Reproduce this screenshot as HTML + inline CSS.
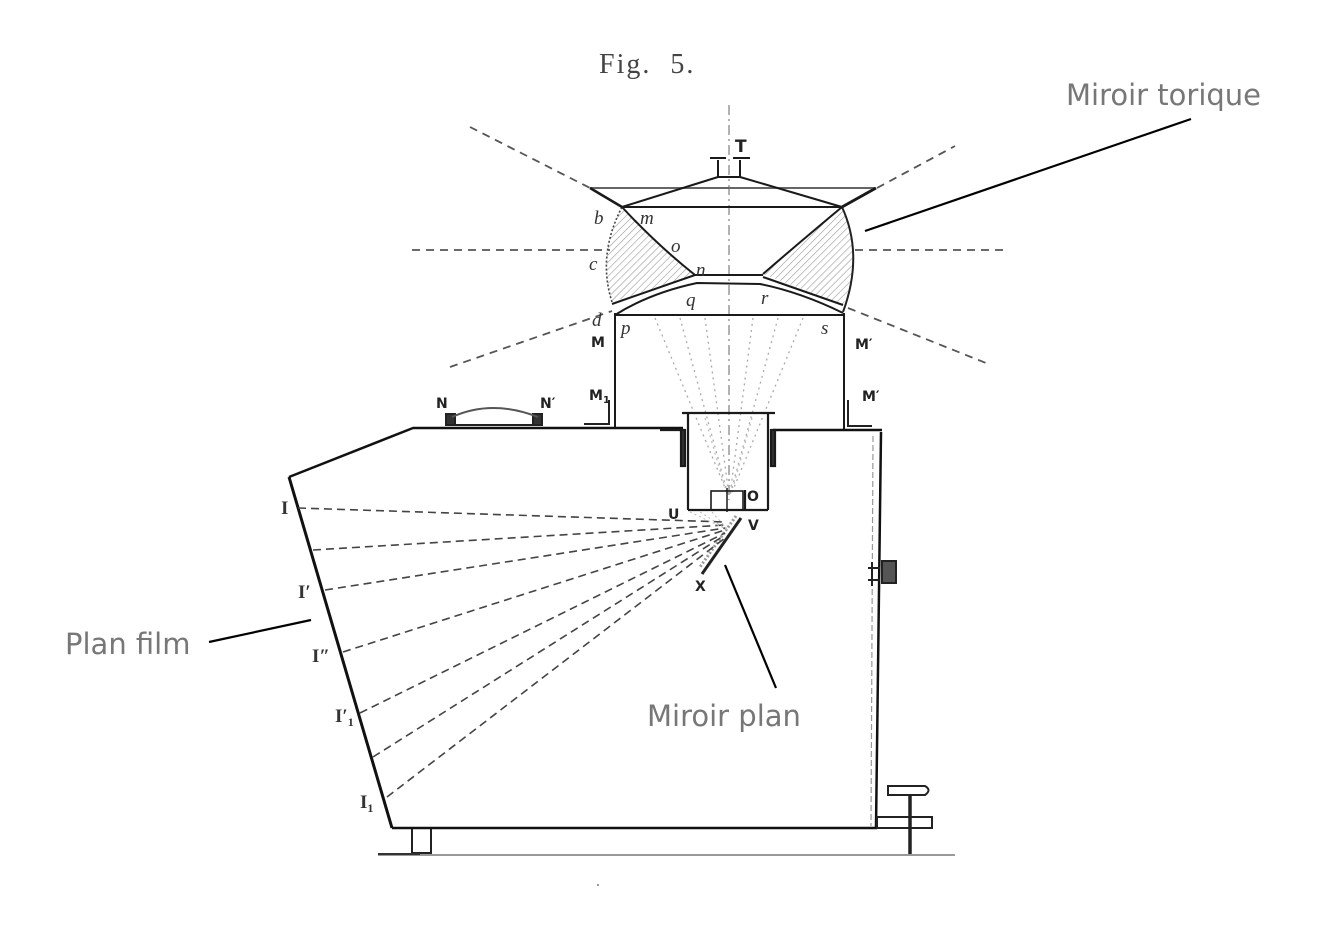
<!DOCTYPE html>
<html><head><meta charset="utf-8"><style>
html,body{margin:0;padding:0;background:#fff;}
svg{display:block;}
</style></head><body>
<svg width="1334" height="930" viewBox="0 0 1334 930" xmlns="http://www.w3.org/2000/svg">
<defs>
<pattern id="h" patternUnits="userSpaceOnUse" width="5" height="5" patternTransform="rotate(45)">
<line x1="0" y1="0" x2="0" y2="5" stroke="#9a9a9a" stroke-width="1.2"/>
</pattern>
</defs>
<rect width="1334" height="930" fill="#fff"/>

<!-- Fig title -->
<text x="599" y="73" font-family="Liberation Serif, serif" font-size="28" fill="#444" letter-spacing="2" word-spacing="10">Fig. 5.</text>

<!-- center axis -->
<line x1="729" y1="105" x2="729" y2="500" stroke="#888" stroke-width="1.3" stroke-dasharray="10 4 2 4"/>

<!-- radial dashed lines -->
<g stroke="#555" stroke-width="1.8" stroke-dasharray="8 6" fill="none">
<line x1="470" y1="127" x2="590" y2="188"/>
<line x1="412" y1="250" x2="610" y2="250"/>
<line x1="450" y1="367" x2="612" y2="311"/>
<line x1="877" y1="188" x2="955" y2="146"/>
<line x1="855" y1="250" x2="1006" y2="250"/>
<line x1="848" y1="308" x2="986" y2="363"/>
</g>

<!-- hatched regions -->
<path d="M622,207 Q656,244 695,275 L612,302 Q597,255 622,207 Z" fill="url(#h)" stroke="none"/>
<path d="M612,302 Q597,255 622,207" fill="none" stroke="#444" stroke-width="1.6" stroke-dasharray="2 2"/>
<path d="M842,207 Q800,242 763,274 L843,305 Q864,255 842,207 Z" fill="url(#h)" stroke="none"/>
<path d="M843,312 Q864,255 842,207" fill="none" stroke="#222" stroke-width="2"/>

<!-- top mirror structure -->
<g stroke="#1a1a1a" stroke-width="2" fill="none" stroke-linejoin="round">
<line x1="590" y1="188" x2="875" y2="188" stroke="#666"/>
<line x1="590" y1="188" x2="622" y2="207" stroke-width="2.5"/>
<line x1="842" y1="207" x2="876" y2="188" stroke-width="3"/>
<line x1="622" y1="207" x2="842" y2="207"/>
<path d="M622,207 L718,177 L740,177 L842,207"/>
<path d="M718,177 L718,160 M740,177 L740,160 M710,158 L726,158 M733,158 L750,158"/>
<path d="M622,207 Q656,244 695,275"/>
<path d="M763,274 Q800,242 842,207"/>
<line x1="695" y1="275" x2="763" y2="275"/>
<path d="M695,275 L612,304"/>
<path d="M763,277 L843,305"/>
<path d="M615,315 Q650,293 697,283 L760,284 Q800,292 843,313"/>
<line x1="615" y1="315" x2="844" y2="315"/>
<line x1="615" y1="313" x2="615" y2="428"/>
<line x1="844" y1="313" x2="844" y2="430"/>
</g>
<text x="735" y="152" font-family="DejaVu Sans, sans-serif" font-size="17" font-weight="bold" fill="#222">T</text>

<!-- italic letters -->
<g font-family="Liberation Serif, serif" font-style="italic" font-size="19" fill="#333">
<text x="594" y="224">b</text>
<text x="640" y="224">m</text>
<text x="671" y="252">o</text>
<text x="589" y="270">c</text>
<text x="696" y="276">n</text>
<text x="686" y="306">q</text>
<text x="761" y="304">r</text>
<text x="592" y="326">d</text>
<text x="621" y="334">p</text>
<text x="821" y="334">s</text>
</g>
<g font-family="DejaVu Sans, sans-serif" font-size="14" font-weight="bold" fill="#222">
<text x="591" y="347">M</text>
<text x="855" y="349">M′</text>
<text x="436" y="408">N</text>
<text x="540" y="408">N′</text>
<text x="589" y="400">M<tspan font-size="10" dy="3">1</tspan></text>
<text x="862" y="401">M′</text>
<text x="668" y="519">U</text>
<text x="747" y="501">O</text>
<text x="748" y="530">V</text>
<text x="695" y="591">X</text>
</g>

<!-- dotted cone inside tube -->
<g stroke="#aaa" stroke-width="1.3" stroke-dasharray="2 4" fill="none">
<line x1="655" y1="318" x2="728" y2="495"/>
<line x1="680" y1="318" x2="728" y2="495"/>
<line x1="705" y1="318" x2="729" y2="495"/>
<line x1="753" y1="318" x2="730" y2="495"/>
<line x1="778" y1="318" x2="730" y2="495"/>
<line x1="803" y1="318" x2="731" y2="495"/>
</g>

<!-- main box -->
<g stroke="#111" fill="none" stroke-linejoin="round">
<path d="M289,477 L413,428 L683,428" stroke-width="2.5"/>
<line x1="773" y1="430" x2="882" y2="430" stroke-width="2.5"/>
<line x1="289" y1="477" x2="392" y2="828" stroke-width="3"/>
<line x1="392" y1="828" x2="877" y2="828" stroke-width="2.5"/>
<line x1="881" y1="432" x2="876" y2="828" stroke-width="2.5"/>
<line x1="873" y1="436" x2="871" y2="826" stroke="#999" stroke-width="1.2" stroke-dasharray="6 3"/>
</g>

<!-- N N' lid -->
<g stroke="#222" stroke-width="2" fill="none">
<rect x="446" y="414" width="9" height="11" fill="#333"/>
<rect x="533" y="414" width="9" height="11" fill="#333"/>
<path d="M452,417 Q492,399 538,417" stroke="#555"/>
<line x1="446" y1="425" x2="542" y2="425"/>
</g>
<!-- M1 brackets -->
<g stroke="#222" stroke-width="2" fill="none">
<path d="M609,400 L609,424 L584,424"/>
<path d="M848,400 L848,426 L872,426"/>
</g>

<!-- lens cylinder -->
<g stroke="#1a1a1a" stroke-width="2.2" fill="none">
<line x1="682" y1="413" x2="775" y2="413"/>
<line x1="688" y1="413" x2="688" y2="510"/>
<line x1="768" y1="413" x2="768" y2="510"/>
<line x1="688" y1="510" x2="768" y2="510"/>
<line x1="660" y1="430" x2="684" y2="430"/>
<rect x="681" y="430" width="4" height="36" fill="#333"/>
<rect x="771" y="430" width="4" height="36" fill="#333"/>
<rect x="711" y="491" width="32" height="19" stroke-width="1.6"/>
<line x1="727" y1="488" x2="727" y2="512" stroke-width="1.5"/>
<line x1="745" y1="490" x2="745" y2="510"/>
</g>
<g stroke="#bbb" stroke-width="1.2" stroke-dasharray="2 4">
<line x1="705" y1="418" x2="725" y2="488"/>
<line x1="752" y1="418" x2="733" y2="488"/>
</g>

<!-- mirror X -->
<line x1="741" y1="518" x2="702" y2="574" stroke="#222" stroke-width="3"/>
<line x1="736" y1="516" x2="700" y2="567" stroke="#999" stroke-width="3" stroke-dasharray="2 2"/>

<!-- rays -->
<g stroke="#444" stroke-width="1.6" stroke-dasharray="8 5" fill="none">
<line x1="298" y1="508" x2="725" y2="522"/>
<line x1="313" y1="550" x2="725" y2="525"/>
<line x1="325" y1="590" x2="725" y2="528"/>
<line x1="343" y1="652" x2="725" y2="530"/>
<line x1="360" y1="713" x2="725" y2="533"/>
<line x1="373" y1="757" x2="725" y2="535"/>
<line x1="387" y1="797" x2="725" y2="538"/>
</g>
<g stroke="#bbb" stroke-width="1" stroke-dasharray="2 3">
<line x1="690" y1="512" x2="728" y2="530"/>
<line x1="700" y1="512" x2="728" y2="530"/>
<line x1="712" y1="512" x2="728" y2="530"/>
</g>

<!-- film labels -->
<g font-family="Liberation Serif, serif" font-weight="bold" font-size="19" fill="#333">
<text x="281" y="514">I</text>
<text x="298" y="598">I′</text>
<text x="312" y="662">I″</text>
<text x="335" y="722">I′<tspan font-size="12" dy="4">1</tspan></text>
<text x="360" y="808">I<tspan font-size="12" dy="4">1</tspan></text>
</g>

<!-- right knob -->
<g stroke="#222" stroke-width="2" fill="none">
<path d="M872,562 L872,586 M868,568 L880,568 M868,580 L880,580"/>
<rect x="882" y="561" width="14" height="22" fill="#555"/>
</g>

<!-- feet -->
<g stroke="#222" stroke-width="2" fill="none">
<rect x="877" y="817" width="55" height="11"/>
<line x1="910" y1="794" x2="910" y2="856" stroke-width="3.5"/>
<path d="M888,786 L925,786 Q932,790 925,795 L888,795 Z"/>
<path d="M412,829 L412,853 L431,853 L431,829"/>
</g>
<line x1="378" y1="855" x2="955" y2="855" stroke="#999" stroke-width="2"/>
<line x1="378" y1="854" x2="420" y2="854" stroke="#333" stroke-width="2"/>
<rect x="597" y="884" width="2" height="2" fill="#999"/>

<!-- annotations -->
<g stroke="#000" stroke-width="2.2">
<line x1="1191" y1="119" x2="865" y2="231"/>
<line x1="209" y1="642" x2="311" y2="620"/>
<line x1="725" y1="565" x2="776" y2="688"/>
</g>
<g font-family="DejaVu Sans, sans-serif" font-size="29" fill="#777">
<text x="1066" y="105">Miroir torique</text>
<text x="65" y="654">Plan film</text>
<text x="647" y="726">Miroir plan</text>
</g>
</svg>
</body></html>
